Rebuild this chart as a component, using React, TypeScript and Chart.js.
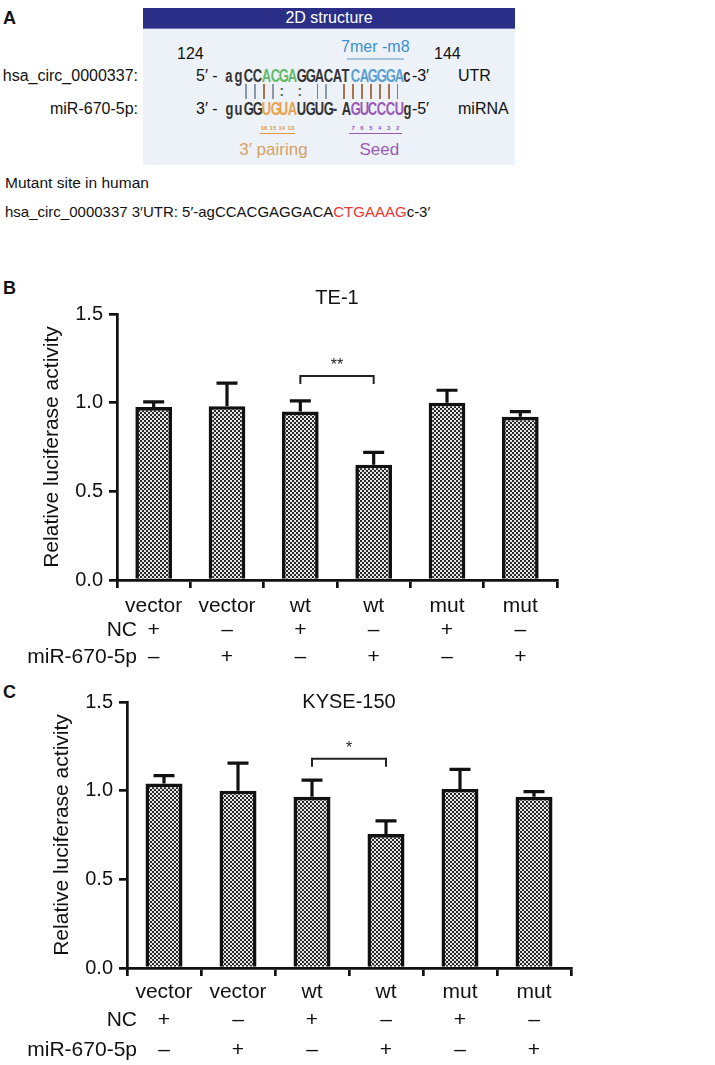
import React, { useEffect, useRef } from "react";
import { Chart, registerables } from "chart.js";

Chart.register(...registerables);

const FONT = '"Liberation Sans", Arial, Helvetica, sans-serif';

// ---------------- data ----------------
const categories = ["vector", "vector", "wt", "wt", "mut", "mut"];
const rowLabels = ["NC", "miR-670-5p"];
const ncRow = ["+", "–", "+", "–", "+", "–"];
const mirRow = ["–", "+", "–", "+", "–", "+"];
const yTickValues = [0, 0.5, 1.0, 1.5];

const te1Means = [0.975, 0.98, 0.95, 0.65, 1.0, 0.92];
const te1Errors = [0.03, 0.13, 0.06, 0.07, 0.07, 0.03];
const te1Compare = [2, 3];
const te1Stars = "**";
const te1BracketLevel = 1.15;

const kyseMeans = [1.04, 1.0, 0.965, 0.755, 1.01, 0.965];
const kyseErrors = [0.045, 0.155, 0.095, 0.075, 0.11, 0.03];
const kyseCompare = [2, 3];
const kyseStars = "*";
const kyseBracketLevel = 1.18;

const utrSeq = "agCCACGAGGACATCAGGGAc";
const mirSeq = "guGGUGUAUGUG-AGUCCCUg";
const pairMarks = "  ||||: : || ||||||| ";
const pairTone = "  ggbgggggbg bbbbbbb ";
const utrTone = "kkkkGGGGkkkkkkBBBBBBk";
const mirTone = "kkkkOOOOkkkkkkPPPPPPk";
const pairingNumbers = ["16", "15", "14", "13"];
const seedNumbers = ["7", "6", "5", "4", "3", "2"];

// ---------------- panel A helpers ----------------
type TProps = {
  x: number;
  y: number;
  size?: number;
  align?: "left" | "right" | "center";
  color?: string;
  weight?: string | number;
  children: React.ReactNode;
};

function T({ x, y, size = 16, align = "left", color = "#111", weight = "normal", children }: TProps) {
  const tx = align === "left" ? "0" : align === "right" ? "-100%" : "-50%";
  return (
    <div
      style={{
        position: "absolute",
        left: x,
        top: y - size * 0.6,
        lineHeight: `${size * 1.2}px`,
        fontSize: size,
        fontFamily: FONT,
        fontWeight: weight as any,
        color,
        whiteSpace: "nowrap",
        transform: `translateX(${tx})`,
      }}
    >
      {children}
    </div>
  );
}

const toneColor: Record<string, string> = {
  k: "#333333",
  G: "#64b96a",
  B: "#5a9fd2",
  O: "#e7a24c",
  P: "#9a58b5",
};

const SEQ_X = 224;
const CW = 8.9;

function SeqRow({ seq, tones, y }: { seq: string; tones: string; y: number }) {
  return (
    <>
      {seq.split("").map((ch, i) => (
        <div
          key={i}
          style={{
            position: "absolute",
            left: SEQ_X + i * CW,
            width: CW,
            top: y - 10,
            lineHeight: "20px",
            textAlign: "center",
            fontFamily: FONT,
            fontWeight: "bold",
            fontSize: 17.5,
            color: toneColor[tones[i]] || "#333",
          }}
        >
          <span style={{ display: "inline-block", transform: "scaleX(0.74)" }}>{ch}</span>
        </div>
      ))}
    </>
  );
}

function PanelA() {
  const cx = (i: number) => SEQ_X + CW * (i + 0.5);
  return (
    <>
      <T x={3} y={19} size={18} weight="bold">A</T>
      <div style={{ position: "absolute", left: 143, top: 28, width: 372, height: 137, background: "#edf1f8" }} />
      <div
        style={{
          position: "absolute",
          left: 143,
          top: 8,
          width: 372,
          height: 20,
          background: "#2b2e86",
          borderBottom: "1px solid #6c74b8",
          color: "#fff",
          textAlign: "center",
          lineHeight: "20px",
          fontFamily: FONT,
          fontSize: 16,
        }}
      >
        2D structure
      </div>
      <T x={177} y={54}>124</T>
      <T x={434} y={54}>144</T>
      <T x={cx(16.5)} y={47} align="center" color="#3a8fd0">7mer -m8</T>
      <div style={{ position: "absolute", left: cx(14) - 6, top: 58, width: cx(19) - cx(14) + 12, height: 2, background: "#a5c3d4" }} />

      <T x={138} y={76} align="right">hsa_circ_0000337:</T>
      <T x={138} y={109} align="right">miR-670-5p:</T>
      <T x={196} y={76}>5′ -</T>
      <T x={196} y={109}>3′ -</T>
      <SeqRow seq={utrSeq} tones={utrTone} y={76} />
      <SeqRow seq={mirSeq} tones={mirTone} y={109} />
      <T x={SEQ_X + CW * 21 + 1} y={76}>-3′</T>
      <T x={SEQ_X + CW * 21 + 1} y={109}>-5′</T>
      <T x={458} y={76}>UTR</T>
      <T x={458} y={109}>miRNA</T>

      {pairMarks.split("").map((m, i) => {
        const col = pairTone[i] === "b" ? "#a9714e" : "#8c98a5";
        if (m === "|")
          return (
            <div key={i} style={{ position: "absolute", left: cx(i) - 0.9, top: 84, width: 1.8, height: 15, background: col }} />
          );
        if (m === ":")
          return (
            <T key={i} x={cx(i)} y={91} align="center" size={15} weight="bold" color="#5e6670">:</T>
          );
        return null;
      })}

      {pairingNumbers.map((n, k) => (
        <T key={"p" + k} x={cx(4 + k)} y={129} align="center" size={6} weight="bold" color="#e09a45">{n}</T>
      ))}
      <div style={{ position: "absolute", left: cx(4) - 4, top: 133, width: cx(7) - cx(4) + 8, height: 1, background: "#e09a45" }} />
      {seedNumbers.map((n, k) => (
        <T key={"s" + k} x={cx(14 + k)} y={129} align="center" size={6} weight="bold" color="#9a58b5">{n}</T>
      ))}
      <div style={{ position: "absolute", left: cx(14) - 4, top: 133, width: cx(19) - cx(14) + 8, height: 1, background: "#9a58b5" }} />

      <T x={(cx(4) + cx(7)) / 2 - 4} y={150} align="center" size={17} color="#d6a064">3′ pairing</T>
      <T x={(cx(14) + cx(19)) / 2 + 4} y={150} align="center" size={17} color="#9a5cb4">Seed</T>

      <T x={5} y={183} size={15.5}>Mutant site in human</T>
      <T x={5} y={212} size={15}>
        hsa_circ_0000337 3′UTR: 5′-agCCACGAGGACA<span style={{ color: "#e53935" }}>CTGAAAG</span>c-3′
      </T>
    </>
  );
}

// ---------------- bar panels ----------------
const X_AXIS_BOX = 50;

type PanelProps = {
  top: number;
  height: number;
  axisLeft: number;
  plotRight: number;
  plotTop: number;
  plotBottom: number;
  title: string;
  titleY: number;
  yTitleX: number;
  means: number[];
  errors: number[];
  compare: number[];
  stars: string;
  bracketLevel: number;
  tickPad: number;
  ncY: number;
  mirY: number;
  rowLabelX: number;
};

function BarPanel(p: PanelProps) {
  const ref = useRef<HTMLCanvasElement>(null);
  useEffect(() => {
    const canvas = ref.current!;
    const ctx0 = canvas.getContext("2d")!;
    const tile = document.createElement("canvas");
    tile.width = 4;
    tile.height = 4;
    const tctx = tile.getContext("2d")!;
    tctx.fillStyle = "#e4e4e4";
    tctx.fillRect(0, 0, 4, 4);
    tctx.fillStyle = "#2a2a2a";
    tctx.fillRect(0, 0, 2, 2);
    tctx.fillRect(2, 2, 2, 2);
    const pattern = ctx0.createPattern(tile, "repeat");

    const annot = {
      id: "panelAnnot",
      afterDatasetsDraw(chart: any) {
        const { ctx, chartArea } = chart;
        const x = chart.scales.x;
        const y = chart.scales.y;
        ctx.save();
        ctx.strokeStyle = "#111";
        ctx.lineWidth = 3.2;
        p.means.forEach((m, i) => {
          const px = x.getPixelForValue(i);
          const y0 = y.getPixelForValue(m);
          const y1 = y.getPixelForValue(m + p.errors[i]);
          ctx.beginPath();
          ctx.moveTo(px, y0);
          ctx.lineTo(px, y1);
          ctx.moveTo(px - 10.5, y1);
          ctx.lineTo(px + 10.5, y1);
          ctx.stroke();
        });
        const xa = x.getPixelForValue(p.compare[0]);
        const xb = x.getPixelForValue(p.compare[1]);
        const yb = y.getPixelForValue(p.bracketLevel);
        ctx.lineWidth = 2;
        ctx.strokeStyle = "#222";
        ctx.beginPath();
        ctx.moveTo(xa, yb + 8);
        ctx.lineTo(xa, yb);
        ctx.lineTo(xb, yb);
        ctx.lineTo(xb, yb + 8);
        ctx.stroke();
        ctx.fillStyle = "#222";
        ctx.font = `16px ${FONT}`;
        ctx.textAlign = "center";
        ctx.textBaseline = "alphabetic";
        ctx.fillText(p.stars, (xa + xb) / 2, yb - 6);

        ctx.fillStyle = "#111";
        ctx.font = `20px ${FONT}`;
        ctx.textBaseline = "middle";
        ctx.fillText(p.title, (chartArea.left + chartArea.right) / 2, p.titleY);

        ctx.font = `21px ${FONT}`;
        const rows: [string, string[], number][] = [
          [rowLabels[0], ncRow, p.ncY],
          [rowLabels[1], mirRow, p.mirY],
        ];
        rows.forEach(([label, marks, ry]) => {
          ctx.textAlign = "right";
          ctx.fillText(label, p.rowLabelX, ry);
          ctx.textAlign = "center";
          marks.forEach((mk, i) => ctx.fillText(mk, x.getPixelForValue(i), ry));
        });
        ctx.restore();
      },
    };

    const axisGrid = {
      drawOnChartArea: false,
      drawTicks: true,
      tickLength: 8,
      tickColor: "#111",
      tickWidth: 2.7,
      color: "#111",
      lineWidth: 2.7,
    };
    const axisBorder = { display: true, color: "#111", width: 2.7 };

    const chart = new Chart(canvas, {
      type: "bar",
      data: {
        labels: categories,
        datasets: [
          {
            data: p.means,
            backgroundColor: pattern as any,
            borderColor: "#111",
            borderWidth: 3.6,
            borderSkipped: "bottom",
            barPercentage: 0.5,
            categoryPercentage: 1,
          },
        ],
      },
      options: {
        animation: false,
        responsive: false,
        maintainAspectRatio: false,
        events: [],
        layout: {
          padding: {
            left: 0,
            top: p.plotTop,
            right: 715 - p.plotRight,
            bottom: p.height - p.plotBottom - X_AXIS_BOX,
          },
        },
        plugins: {
          legend: { display: false },
          tooltip: { enabled: false },
          title: { display: false },
        },
        scales: {
          x: {
            type: "category",
            offset: true,
            grid: axisGrid as any,
            border: axisBorder,
            afterFit: (s: any) => {
              s.height = X_AXIS_BOX;
            },
            ticks: {
              color: "#111",
              font: { family: FONT, size: 21 },
              padding: p.tickPad,
              maxRotation: 0,
              autoSkip: false,
            },
          },
          y: {
            type: "linear",
            min: 0,
            max: 1.5,
            grid: axisGrid as any,
            border: axisBorder,
            afterBuildTicks: (s: any) => {
              s.ticks = yTickValues.map((v) => ({ value: v }));
            },
            afterFit: (s: any) => {
              s.width = p.axisLeft;
            },
            ticks: {
              color: "#111",
              font: { family: FONT, size: 20 },
              padding: 6,
              callback: (v: any) => Number(v).toFixed(1),
            },
            title: {
              display: true,
              text: "Relative luciferase activity",
              color: "#111",
              font: { family: FONT, size: 21 },
              padding: { top: p.yTitleX - 12.6, bottom: 0 },
            },
          },
        },
      },
      plugins: [annot],
    });
    return () => chart.destroy();
  }, []);

  return (
    <canvas
      ref={ref}
      width={715}
      height={p.height}
      style={{ position: "absolute", left: 0, top: p.top, width: 715, height: p.height }}
    />
  );
}

export default function App() {
  return (
    <div
      style={{
        position: "absolute",
        left: 0,
        top: 0,
        width: 715,
        height: 1065,
        background: "#fff",
        overflow: "hidden",
      }}
    >
      <PanelA />
      <T x={3} y={289} size={18} weight="bold">B</T>
      <BarPanel
        top={280}
        height={390}
        axisLeft={117}
        plotRight={557}
        plotTop={34}
        plotBottom={300}
        title="TE-1"
        titleY={18}
        yTitleX={52}
        means={te1Means}
        errors={te1Errors}
        compare={te1Compare}
        stars={te1Stars}
        bracketLevel={te1BracketLevel}
        tickPad={6}
        ncY={350}
        mirY={377}
        rowLabelX={137}
      />
      <T x={3} y={693} size={18} weight="bold">C</T>
      <BarPanel
        top={675}
        height={390}
        axisLeft={127}
        plotRight={571}
        plotTop={27}
        plotBottom={293}
        title="KYSE-150"
        titleY={27}
        yTitleX={62}
        means={kyseMeans}
        errors={kyseErrors}
        compare={kyseCompare}
        stars={kyseStars}
        bracketLevel={kyseBracketLevel}
        tickPad={4}
        ncY={345}
        mirY={375}
        rowLabelX={137}
      />
    </div>
  );
}
